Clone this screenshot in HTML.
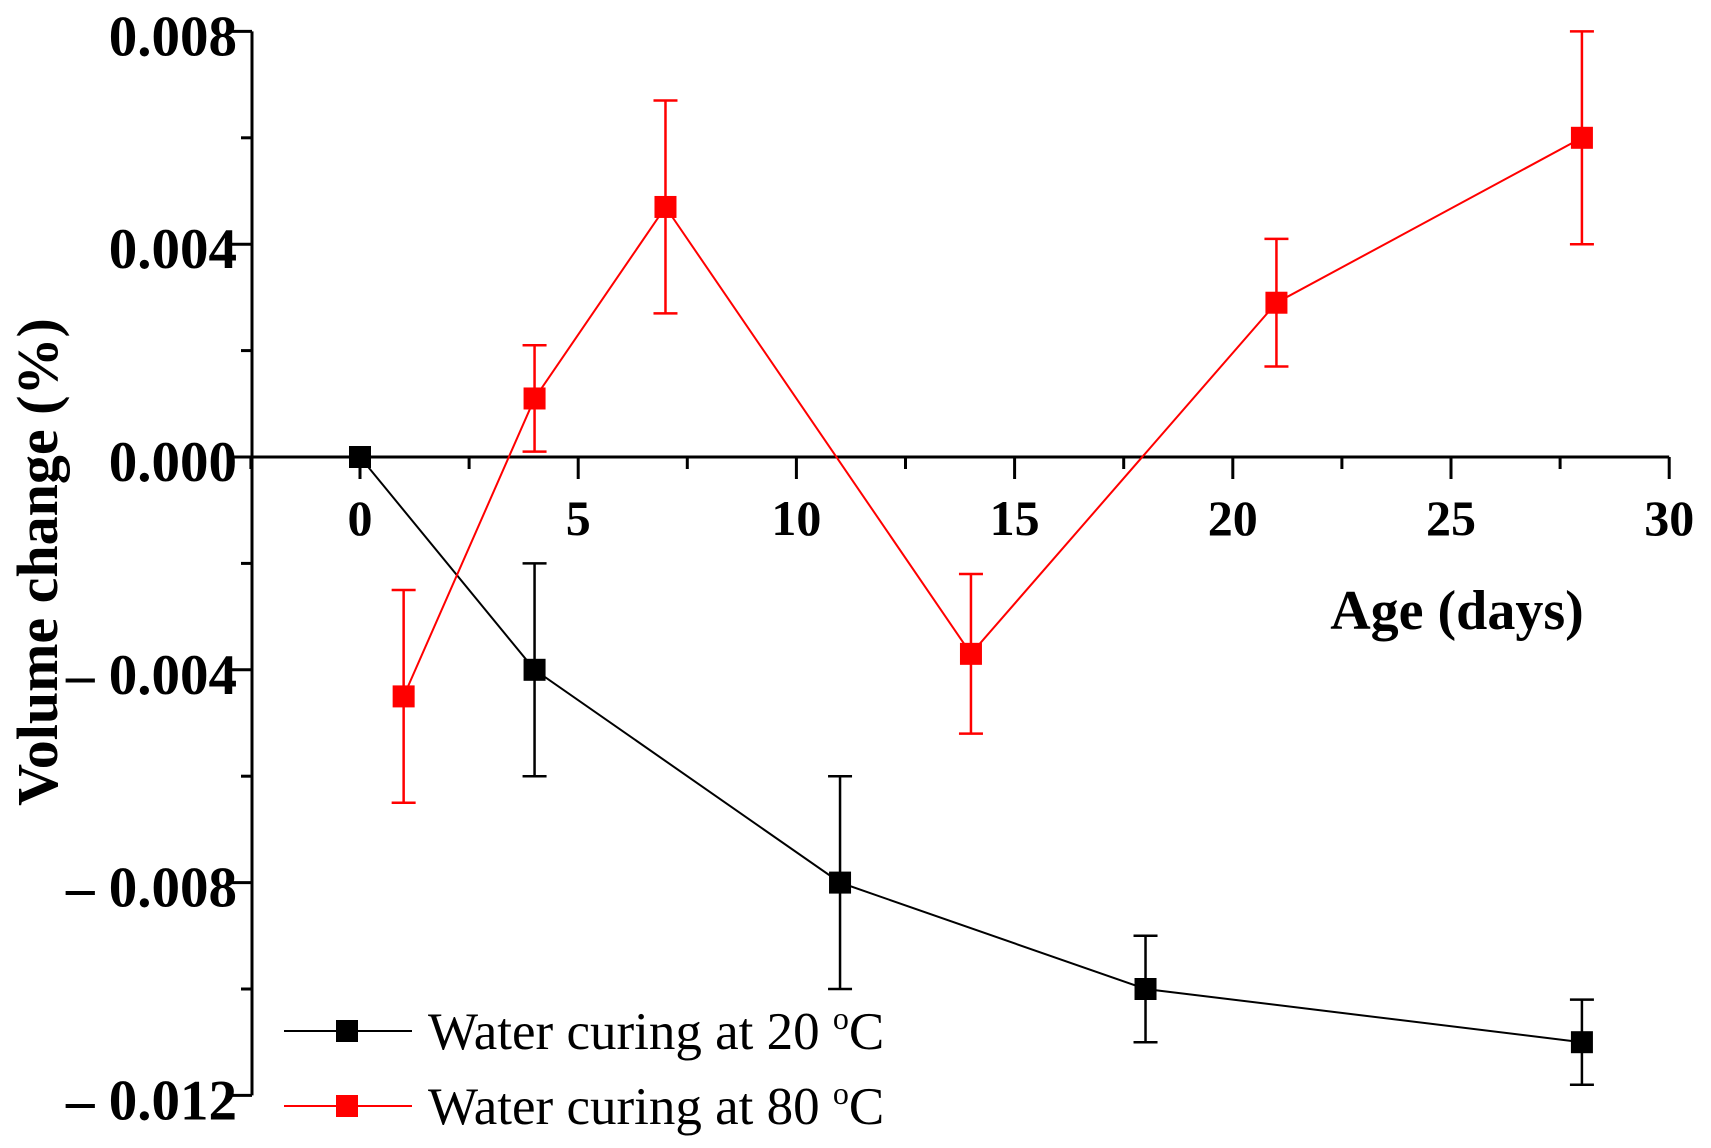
<!DOCTYPE html>
<html><head><meta charset="utf-8"><style>
html,body{margin:0;padding:0;background:#fff;}
svg{display:block;font-family:"Liberation Serif",serif;}
</style></head><body>
<svg id="chart" width="1711" height="1148" viewBox="0 0 1711 1148" xmlns="http://www.w3.org/2000/svg">
<g id="axes"></g>
<g id="series"></g>
<text transform="translate(57,562) rotate(-90)" text-anchor="middle" font-size="58" font-weight="bold">Volume change (%)</text>
<text x="1457" y="629" text-anchor="middle" font-size="56" font-weight="bold">Age (days)</text>
<g>
 <g>
  <line x1="284" y1="1031" x2="412" y2="1031" stroke="#000" stroke-width="2"/>
  <rect x="336" y="1020" width="22" height="22" fill="#000"/>
  <text x="428" y="1049" font-size="53">Water curing at 20 <tspan font-size="32" dy="-20">o</tspan><tspan dy="20">C</tspan></text>
 </g>
 <g>
  <line x1="284" y1="1106" x2="412" y2="1106" stroke="#f00" stroke-width="2"/>
  <rect x="336" y="1095" width="22" height="22" fill="#f00"/>
  <text x="428" y="1124" font-size="53">Water curing at 80 <tspan font-size="32" dy="-20">o</tspan><tspan dy="20">C</tspan></text>
 </g>
</g>
</svg>
<script>
const blackX = [0, 4, 11, 18, 28];
const blackY = [0, -0.004, -0.008, -0.010, -0.011];
const blackErr = [0, 0.002, 0.002, 0.001, 0.0008];
const redX = [1, 4, 7, 14, 21, 28];
const redY = [-0.0045, 0.0011, 0.0047, -0.0037, 0.0029, 0.006];
const redErr = [0.002, 0.001, 0.002, 0.0015, 0.0012, 0.002];
const xTicks = [0, 5, 10, 15, 20, 25, 30];
const yTicks = [0.008, 0.004, 0, -0.004, -0.008, -0.012];
const yTickLabels = ["0.008", "0.004", "0.000", "\u2013 0.004", "\u2013 0.008", "\u2013 0.012"];

const NS = "http://www.w3.org/2000/svg";
const sx = v => 360 + v * 43.64;
const sy = v => 457 - v * 53200;
function mk(tag, attrs, parent) {
  const e = document.createElementNS(NS, tag);
  for (const k in attrs) e.setAttribute(k, attrs[k]);
  parent.appendChild(e);
  return e;
}
const axes = document.getElementById('axes');
const series = document.getElementById('series');
const AX = 252;
let e = mk('line', {x1: AX, y1: sy(0.008), x2: AX, y2: sy(-0.012), stroke: '#000', 'stroke-width': 3}, axes);


e = mk('line', {x1: AX, y1: sy(0), x2: sx(30), y2: sy(0), stroke: '#000', 'stroke-width': 3}, axes);


for (let v = -0.012; v <= 0.0081; v += 0.002) {
  const major = Math.abs(Math.round(v * 1000) % 4) === 0;
  e = mk('line', {x1: AX - (major ? 22 : 11), y1: sy(v), x2: AX, y2: sy(v), stroke: '#000', 'stroke-width': 3}, axes);
  
  
}
yTicks.forEach((v, i) => {
  const t = mk('text', {x: 237, y: sy(v) + 24, 'text-anchor': 'end', 'font-size': 57, 'font-weight': 'bold'}, axes);
  t.textContent = yTickLabels[i];
  
  
});
for (let v = -2.5; v <= 30; v += 2.5) {
  const major = v % 5 === 0;
  e = mk('line', {x1: sx(v), y1: sy(0), x2: sx(v), y2: sy(0) + (major ? 22 : 12), stroke: '#000', 'stroke-width': 3}, axes);
  
  
}
xTicks.forEach(v => {
  const t = mk('text', {x: sx(v), y: 535, 'text-anchor': 'middle', 'font-size': 50, 'font-weight': 'bold'}, axes);
  t.textContent = v;
  
  
});
function drawSeries(xs, ys, errs, color, name) {
  const g = mk('g', {}, series);
  
  
  const pl = mk('polyline', {points: xs.map((x, i) => sx(x) + ',' + sy(ys[i])).join(' '), fill: 'none', stroke: color, 'stroke-width': 2}, g);
  
  
  xs.forEach((x, i) => {
    const cx = sx(x), top = sy(ys[i] + errs[i]), bot = sy(ys[i] - errs[i]);
    if (errs[i] > 0) {
      const eb = mk('path', {d: `M${cx},${top}V${bot}M${cx-12},${top}H${cx+12}M${cx-12},${bot}H${cx+12}`, stroke: color, 'stroke-width': 2.5, fill: 'none'}, g);
      
      
    }
    const r = mk('rect', {x: cx - 11, y: sy(ys[i]) - 11, width: 22, height: 22, fill: color}, g);
    
    
  });
}
drawSeries(blackX, blackY, blackErr, '#000', 'series-20c');
drawSeries(redX, redY, redErr, '#f00', 'series-80c');
</script>
</body></html>
